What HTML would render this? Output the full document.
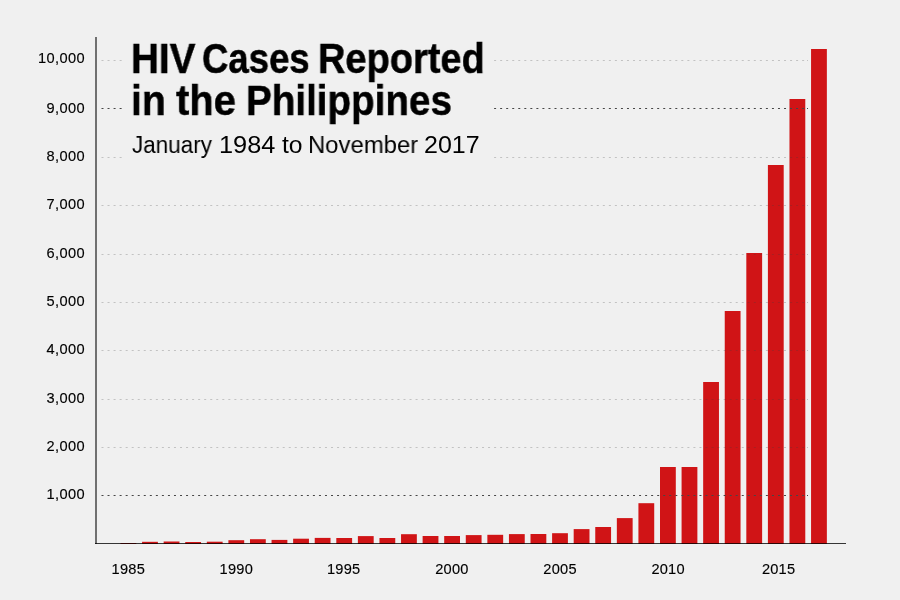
<!DOCTYPE html>
<html><head><meta charset="utf-8"><style>
html,body{margin:0;padding:0;background:#f0f0f0;}
body{width:900px;height:600px;overflow:hidden;position:relative;}
svg{position:absolute;left:0;top:0;will-change:transform;}
.ttl{position:absolute;left:122px;top:38px;width:372px;height:128px;background:#f0f0f0;}
.w{position:absolute;will-change:transform;white-space:nowrap;transform-origin:0 0;color:#000;font-family:"Liberation Sans",sans-serif;}
.l1,.l2{font-weight:bold;font-size:43px;line-height:43px;-webkit-text-stroke:0.5px #000;}
.l1{top:37.2px;margin-left:0.5px;}
.l2{top:78.5px;margin-left:0.5px;}
.l3{font-size:24.7px;line-height:24.7px;top:132.5px;}
</style></head><body>
<svg width="900" height="600" viewBox="0 0 900 600">
<g fill="#d01416">
<rect x="120.50" y="543.00" width="15.8" height="1.00"/>
<rect x="142.08" y="541.80" width="15.8" height="2.20"/>
<rect x="163.66" y="541.50" width="15.8" height="2.50"/>
<rect x="185.24" y="542.00" width="15.8" height="2.00"/>
<rect x="206.82" y="541.70" width="15.8" height="2.30"/>
<rect x="228.40" y="540.20" width="15.8" height="3.80"/>
<rect x="249.98" y="539.20" width="15.8" height="4.80"/>
<rect x="271.56" y="539.90" width="15.8" height="4.10"/>
<rect x="293.14" y="538.70" width="15.8" height="5.30"/>
<rect x="314.72" y="537.90" width="15.8" height="6.10"/>
<rect x="336.30" y="538.00" width="15.8" height="6.00"/>
<rect x="357.88" y="536.10" width="15.8" height="7.90"/>
<rect x="379.46" y="538.00" width="15.8" height="6.00"/>
<rect x="401.04" y="534.20" width="15.8" height="9.80"/>
<rect x="422.62" y="536.00" width="15.8" height="8.00"/>
<rect x="444.20" y="536.00" width="15.8" height="8.00"/>
<rect x="465.78" y="535.10" width="15.8" height="8.90"/>
<rect x="487.36" y="534.80" width="15.8" height="9.20"/>
<rect x="508.94" y="534.10" width="15.8" height="9.90"/>
<rect x="530.52" y="534.00" width="15.8" height="10.00"/>
<rect x="552.10" y="533.20" width="15.8" height="10.80"/>
<rect x="573.68" y="529.10" width="15.8" height="14.90"/>
<rect x="595.26" y="527.00" width="15.8" height="17.00"/>
<rect x="616.84" y="518.10" width="15.8" height="25.90"/>
<rect x="638.42" y="503.20" width="15.8" height="40.80"/>
<rect x="660.00" y="467.00" width="15.8" height="77.00"/>
<rect x="681.58" y="467.00" width="15.8" height="77.00"/>
<rect x="703.16" y="382.00" width="15.8" height="162.00"/>
<rect x="724.74" y="311.00" width="15.8" height="233.00"/>
<rect x="746.32" y="253.00" width="15.8" height="291.00"/>
<rect x="767.90" y="165.00" width="15.8" height="379.00"/>
<rect x="789.48" y="99.00" width="15.8" height="445.00"/>
<rect x="811.06" y="49.00" width="15.8" height="495.00"/>
</g>
<line x1="101.5" y1="495.50" x2="805" y2="495.50" stroke="#464646" stroke-width="1" stroke-dasharray="2 4.04"/>
<rect x="807" y="495" width="1" height="1" fill="#464646"/>
<line x1="101.5" y1="447.50" x2="805" y2="447.50" stroke="rgba(60,60,60,0.26)" stroke-width="1" stroke-dasharray="2 4.04"/>
<rect x="807" y="447" width="1" height="1" fill="rgba(60,60,60,0.26)"/>
<line x1="101.5" y1="399.50" x2="805" y2="399.50" stroke="rgba(60,60,60,0.26)" stroke-width="1" stroke-dasharray="2 4.04"/>
<rect x="807" y="399" width="1" height="1" fill="rgba(60,60,60,0.26)"/>
<line x1="101.5" y1="350.50" x2="805" y2="350.50" stroke="rgba(60,60,60,0.26)" stroke-width="1" stroke-dasharray="2 4.04"/>
<rect x="807" y="350" width="1" height="1" fill="rgba(60,60,60,0.26)"/>
<line x1="101.5" y1="302.50" x2="805" y2="302.50" stroke="rgba(60,60,60,0.26)" stroke-width="1" stroke-dasharray="2 4.04"/>
<rect x="807" y="302" width="1" height="1" fill="rgba(60,60,60,0.26)"/>
<line x1="101.5" y1="254.50" x2="805" y2="254.50" stroke="rgba(60,60,60,0.26)" stroke-width="1" stroke-dasharray="2 4.04"/>
<rect x="807" y="254" width="1" height="1" fill="rgba(60,60,60,0.26)"/>
<line x1="101.5" y1="205.50" x2="805" y2="205.50" stroke="rgba(60,60,60,0.26)" stroke-width="1" stroke-dasharray="2 4.04"/>
<rect x="807" y="205" width="1" height="1" fill="rgba(60,60,60,0.26)"/>
<line x1="101.5" y1="157.50" x2="805" y2="157.50" stroke="rgba(60,60,60,0.26)" stroke-width="1" stroke-dasharray="2 4.04"/>
<rect x="807" y="157" width="1" height="1" fill="rgba(60,60,60,0.26)"/>
<line x1="101.5" y1="108.50" x2="805" y2="108.50" stroke="#464646" stroke-width="1" stroke-dasharray="2 4.04"/>
<rect x="807" y="108" width="1" height="1" fill="#464646"/>
<line x1="101.5" y1="60.50" x2="805" y2="60.50" stroke="rgba(60,60,60,0.26)" stroke-width="1" stroke-dasharray="2 4.04"/>
<rect x="807" y="60" width="1" height="1" fill="rgba(60,60,60,0.26)"/>
<line x1="96" y1="37" x2="96" y2="544" stroke="#707070" stroke-width="2"/>
<line x1="95" y1="543.5" x2="846" y2="543.5" stroke="rgba(0,0,0,0.78)" stroke-width="1"/>
<g font-family="Liberation Sans" font-size="14.6" letter-spacing="0.4" text-anchor="end" fill="#000" stroke="#000" stroke-width="0.15">
<text x="85.00" y="499.10">1,000</text>
<text x="85.00" y="451.10">2,000</text>
<text x="85.00" y="403.10">3,000</text>
<text x="85.00" y="354.10">4,000</text>
<text x="85.00" y="306.10">5,000</text>
<text x="85.00" y="258.10">6,000</text>
<text x="85.00" y="209.10">7,000</text>
<text x="85.00" y="161.10">8,000</text>
<text x="85.00" y="113.10">9,000</text>
<text x="85.00" y="63.10">10,000</text>
</g>
<g font-family="Liberation Sans" font-size="14.6" letter-spacing="0.25" text-anchor="middle" fill="#000" stroke="#000" stroke-width="0.15">
<text x="128.32" y="574">1985</text>
<text x="236.32" y="574">1990</text>
<text x="343.73" y="574">1995</text>
<text x="451.93" y="574">2000</text>
<text x="560.02" y="574">2005</text>
<text x="668.12" y="574">2010</text>
<text x="778.62" y="574">2015</text>
</g>
</svg>
<div class="ttl"></div>
<span class="w l1" style="left:130.60px;transform:scaleX(0.8985)">HIV</span>
<span class="w l1" style="left:201.60px;transform:scaleX(0.8496)">Cases</span>
<span class="w l1" style="left:317.85px;transform:scaleX(0.8836)">Reported</span>
<span class="w l2" style="left:130.57px;transform:scaleX(0.9091)">in</span>
<span class="w l2" style="left:175.77px;transform:scaleX(0.9306)">the</span>
<span class="w l2" style="left:245.31px;transform:scaleX(0.8978)">Philippines</span>
<span class="w l3" style="left:132.09px;transform:scaleX(0.9103)">January</span>
<span class="w l3" style="left:219.05px;transform:scaleX(1.025)">1984</span>
<span class="w l3" style="left:282.20px;transform:scaleX(1.0)">to</span>
<span class="w l3" style="left:307.57px;transform:scaleX(0.967)">November</span>
<span class="w l3" style="left:424.19px;transform:scaleX(1.0132)">2017</span>
</body></html>
